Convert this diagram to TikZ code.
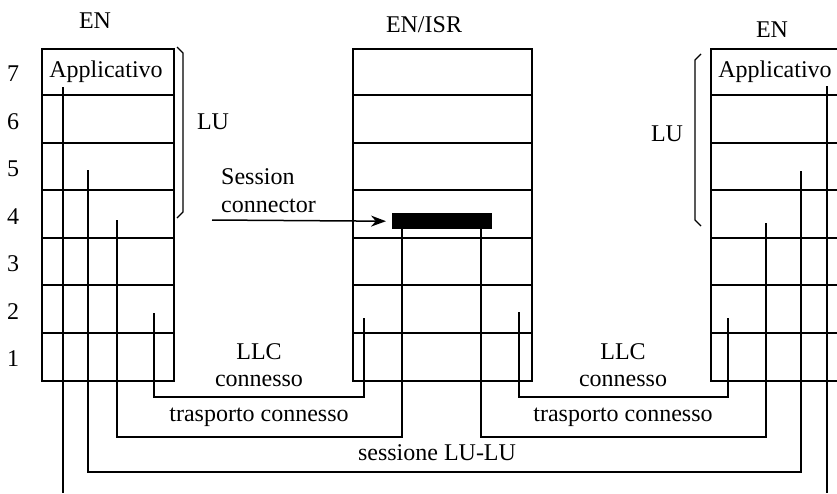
\documentclass[tikz,border=0pt]{standalone}
\usepackage{fontspec}
\setmainfont{Liberation Serif}
\usetikzlibrary{arrows.meta}
\begin{document}
\begin{tikzpicture}[x=1pt,y=-1pt,
  every node/.style={font=\fontsize{24}{28}\selectfont, inner sep=0pt},
  stack/.style={draw, line width=1.9pt, rectangle, anchor=north west, inner sep=0pt},
  rowline/.style={line width=1.9pt},
  conn/.style={line width=2.3pt},
  brak/.style={line width=1.3pt},
  lbl/.style={}]
\useasboundingbox (0,0) rectangle (837,493);
% stacks
\node[stack, minimum width=132pt, minimum height=332pt] (L) at (41,48) {};
\node[stack, minimum width=179pt, minimum height=332pt] (M) at (352,48) {};
\node[stack, minimum width=140pt, minimum height=332pt] (R) at (710,48) {};
\foreach \k in {1,...,6}{
  \draw[rowline] (41,48+\k*47.43) -- (173,48+\k*47.43);
  \draw[rowline] (352,48+\k*47.43) -- (531,48+\k*47.43);
  \draw[rowline] (710,48+\k*47.43) -- (850,48+\k*47.43);
}
% titles
\node (tL) at (95,21) {EN};
\node (tM) at (424,25) {EN/ISR};
\node (tR) at (772,30) {EN};
% layer numbers
\foreach \n [count=\i from 0] in {7,6,5,4,3,2,1}{
  \node (n\n) at (13,74+\i*47.43) {\n};
}
\node (appL) at (106,72) {Applicativo};
\node (appR) at (775,72) {Applicativo};
% braces
\draw[brak] (177,47) -- (183,53) -- (183,212) -- (177,218);
\node (luL) at (213,122) {LU};
\draw[brak] (701,54) -- (695,60) -- (695,220) -- (701,226);
\node (luR) at (667,134) {LU};
% session connector
\node[fill=black, minimum width=100pt, minimum height=16pt, anchor=north west] (bar) at (392,213) {};
\node[align=left, anchor=north west] (sc) at (221,168) {Session\\connector};
\coordinate (as) at (212,220);
\draw[line width=1.5pt, -{Stealth[length=15pt,width=11pt]}] (as) -- (bar.west -| 386,0);
% connector endpoints
\coordinate (a1) at (63,87);   \coordinate (a2) at (63,493);
\coordinate (b1) at (827,86);  \coordinate (b2) at (827,493);
\coordinate (c1) at (88,170);  \coordinate (c2) at (801,171);
\coordinate (d1) at (117,220); \coordinate (d2) at (402,229);
\coordinate (e1) at (481,229); \coordinate (e2) at (766,223);
\coordinate (f1) at (154,313); \coordinate (f2) at (364,318);
\coordinate (g1) at (519,312); \coordinate (g2) at (728,318);
\draw[conn] (a1) -- (a2);
\draw[conn] (b1) -- (b2);
\draw[conn] (c1) |- (801,472) -- (c2);
\draw[conn] (d1) |- (402,437) -- (d2);
\draw[conn] (e1) |- (766,437) -- (e2);
\draw[conn] (f1) |- (364,397) -- (f2);
\draw[conn] (g1) |- (728,397) -- (g2);
% labels
\node (llcL) at (259,352) {LLC};
\node (cL) at (259,381) {connesso};
\node (tcL) at (259,417) {trasporto connesso};
\node (llcR) at (623,352) {LLC};
\node (cR) at (623,381) {connesso};
\node (tcR) at (623,417) {trasporto connesso};
\node (ses) at (437,453) {sessione LU-LU};
\end{tikzpicture}
\end{document}
